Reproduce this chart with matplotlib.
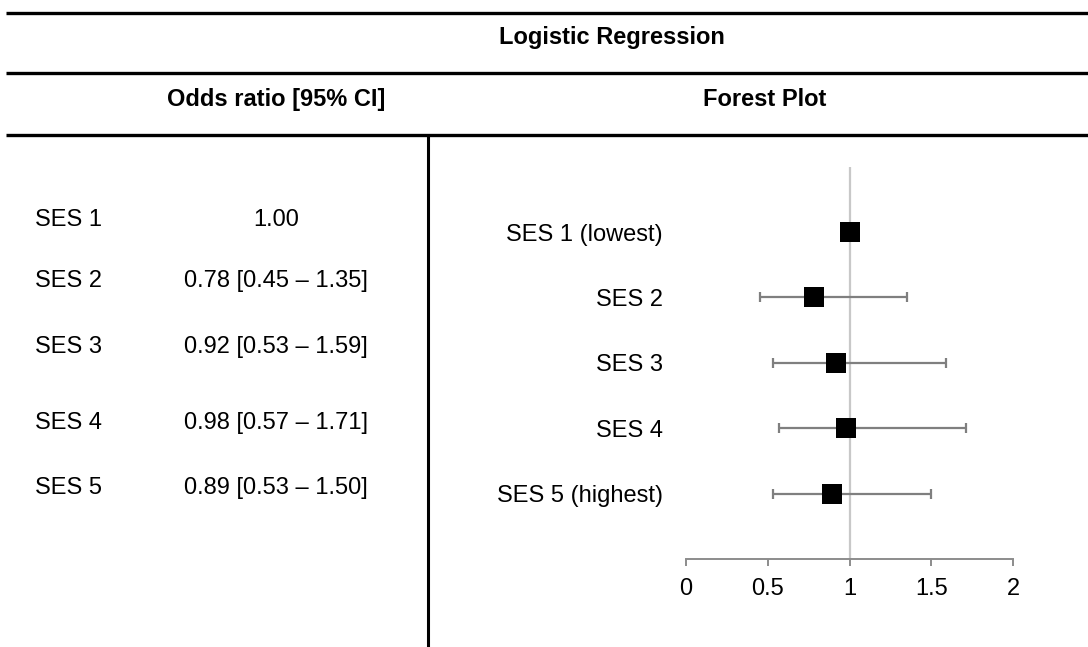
import numpy as np
import matplotlib.pyplot as plt

plt.rcParams["font.family"] = ["Liberation Sans", "DejaVu Sans"]

# --- data ---
table_labels = ["SES 1", "SES 2", "SES 3", "SES 4", "SES 5"]
forest_labels = ["SES 1 (lowest)", "SES 2", "SES 3", "SES 4", "SES 5 (highest)"]
odds = [1.00, 0.78, 0.92, 0.98, 0.89]
ci_lo = [np.nan, 0.45, 0.53, 0.57, 0.53]
ci_hi = [np.nan, 1.35, 1.59, 1.71, 1.50]
x_ticks = [0, 0.5, 1, 1.5, 2]
x_tick_labels = ["0", "0.5", "1", "1.5", "2"]

W, H = 1088, 647
FS = 17
fig = plt.figure(figsize=(W / 100, H / 100), dpi=100)

# --- overlay in pixel coords for the table frame and left column ---
bg = fig.add_axes([0, 0, 1, 1])
bg.set_xlim(0, W)
bg.set_ylim(H, 0)
bg.axis("off")

for y in (13, 73, 135):
    bg.plot([6, W], [y, y], color="black", lw=2.4, solid_capstyle="butt")
bg.plot([428, 428], [135, H], color="black", lw=2.2, solid_capstyle="butt")

bg.text(612, 44, "Logistic Regression", ha="center", va="baseline",
        fontsize=FS, fontweight="bold")
bg.text(276, 106, "Odds ratio [95% CI]", ha="center", va="baseline",
        fontsize=FS, fontweight="bold")
bg.text(765, 106, "Forest Plot", ha="center", va="baseline",
        fontsize=FS, fontweight="bold")

row_base_left = [226, 287, 353, 429, 494]
for lab, o, lo, hi, y in zip(table_labels, odds, ci_lo, ci_hi, row_base_left):
    bg.text(35, y, lab, ha="left", va="baseline", fontsize=FS)
    if np.isnan(lo):
        txt = f"{o:.2f}"
    else:
        txt = f"{o:.2f} [{lo:.2f} \u2013 {hi:.2f}]"
    bg.text(276, y, txt, ha="center", va="baseline", fontsize=FS)

# --- forest plot ---
x0, x1 = 686, 1013
y_top, y_bot = 166.75, 559
ax = fig.add_axes([x0 / W, 1 - y_bot / H, (x1 - x0) / W, (y_bot - y_top) / H])
ax.set_xlim(0, 2)
ax.set_ylim(6, 0)

rows = np.arange(1, len(odds) + 1)
ax.axvline(1, color="#c8c8c8", lw=1.6, zorder=1)
lo_err = np.array(odds) - np.array(ci_lo)
hi_err = np.array(ci_hi) - np.array(odds)
ax.errorbar(odds, rows, xerr=[lo_err, hi_err], fmt="none", ecolor="#7f7f7f",
            elinewidth=1.6, capsize=3.6, capthick=1.6, zorder=2)
ax.scatter(odds, rows, marker="s", s=207, color="black", linewidths=0, zorder=3)

for s in ("top", "right", "left"):
    ax.spines[s].set_visible(False)
ax.spines["bottom"].set_color("#8c8c8c")
ax.spines["bottom"].set_linewidth(1.4)
ax.set_xticks(x_ticks)
ax.set_xticklabels(x_tick_labels, fontsize=FS)
ax.tick_params(axis="x", direction="out", length=5, width=1.4,
               color="#8c8c8c", pad=8.5)
ax.set_yticks(rows)
ax.set_yticklabels(forest_labels, fontsize=FS)
ax.tick_params(axis="y", length=0, pad=16.5)

fig.savefig("out.png", dpi=100)
